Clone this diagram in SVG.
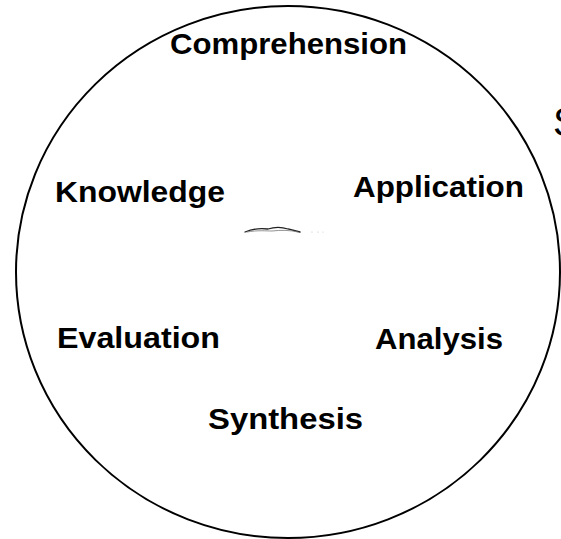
<svg xmlns="http://www.w3.org/2000/svg" width="561" height="539" viewBox="0 0 561 539">
<style>
.lbl{font-family:"Liberation Sans",Arial,sans-serif;font-weight:bold;font-size:30px;fill:#000}
.big{font-family:"Liberation Sans",Arial,sans-serif;font-size:40px;fill:#000}
</style>
<rect width="561" height="539" fill="#fff"/>
<g id="circle">
<ellipse cx="288" cy="272" rx="272" ry="266" fill="none" stroke="#000" stroke-width="2"/>
</g>
<g id="comprehension"><text class="lbl" x="170" y="54" textLength="237" lengthAdjust="spacingAndGlyphs">Comprehension</text></g>
<g id="knowledge"><text class="lbl" x="55" y="202" textLength="170" lengthAdjust="spacingAndGlyphs">Knowledge</text></g>
<g id="application"><text class="lbl" x="353" y="197" textLength="171" lengthAdjust="spacingAndGlyphs">Application</text></g>
<g id="evaluation"><text class="lbl" x="57" y="348" textLength="163" lengthAdjust="spacingAndGlyphs">Evaluation</text></g>
<g id="analysis"><text class="lbl" x="375" y="349" textLength="128" lengthAdjust="spacingAndGlyphs">Analysis</text></g>
<g id="synthesis"><text class="lbl" x="208" y="429" textLength="155" lengthAdjust="spacingAndGlyphs">Synthesis</text></g>
<g id="s-edge"><text class="big" x="553" y="136">S</text></g>
<g id="squiggle" fill="none" stroke-linecap="round">
<path d="M245,232 C252,229 260,228 268,229 C274,227 282,227 288,229 C292,230 296,231 300,232" stroke="#222" stroke-width="1.3"/>
<path d="M247,232 C258,230 266,231 272,231 C280,230 290,230 298,232" stroke="#777" stroke-width="0.8"/>
<circle cx="312" cy="232" r="0.6" fill="#bbb" stroke="none"/>
<circle cx="318" cy="232" r="0.6" fill="#bbb" stroke="none"/>
<circle cx="323" cy="232" r="0.6" fill="#ccc" stroke="none"/>
</g>
</svg>
